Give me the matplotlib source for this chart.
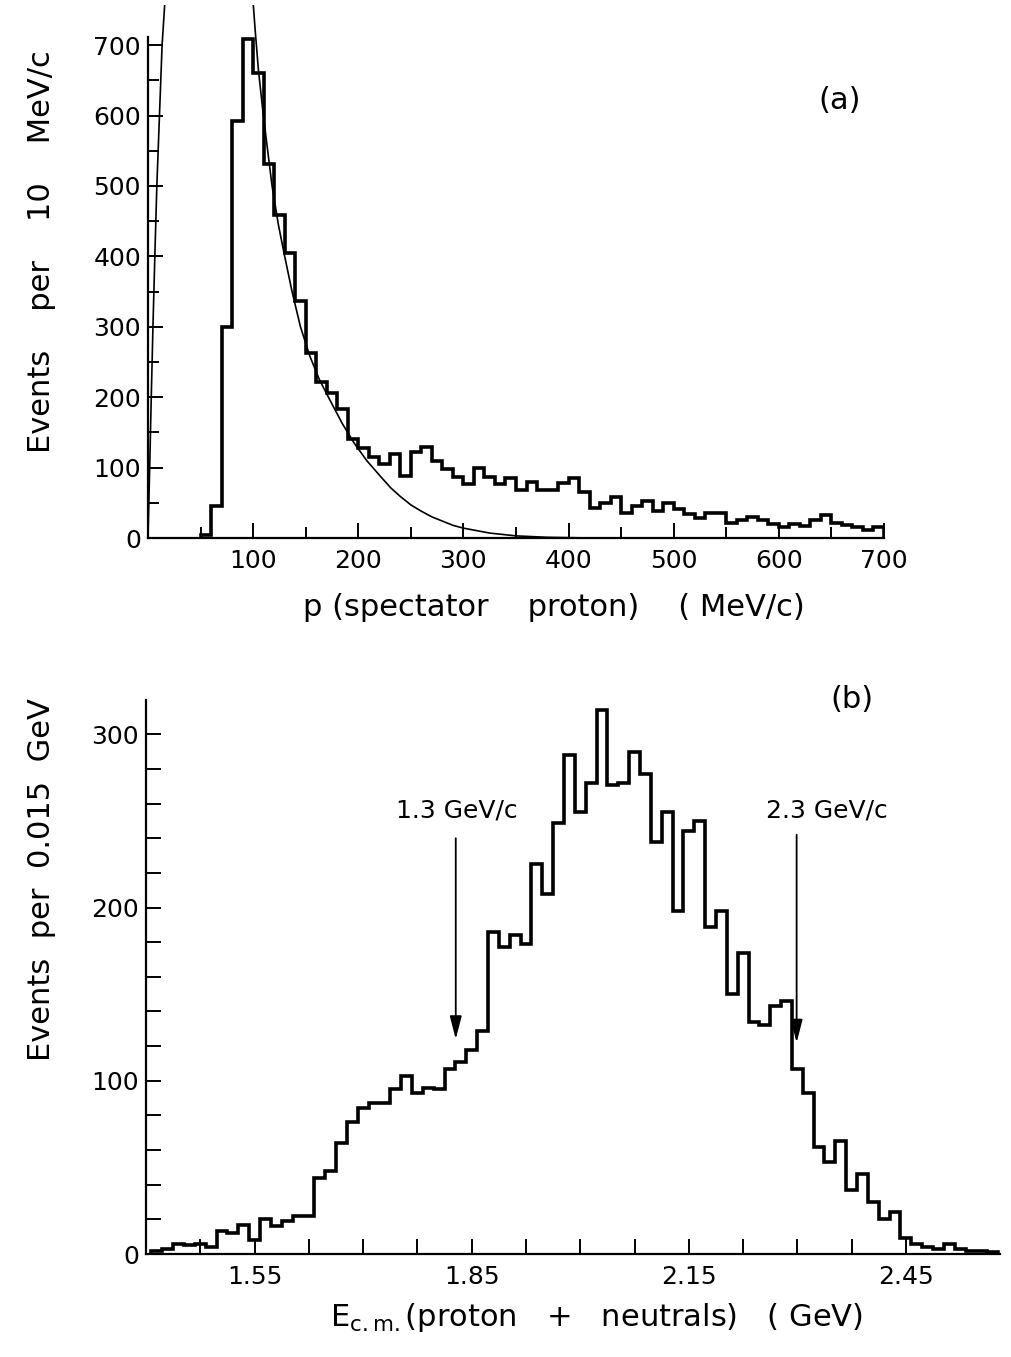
import numpy as np
import matplotlib
matplotlib.use("Agg")
import matplotlib.pyplot as plt

# ---------------- data ----------------
# (a) spectator proton momentum, 10 MeV/c bins from 50 to 700 MeV/c
p_lo, p_width = 50.0, 10.0
p_counts = [4, 45, 300, 592, 709, 661, 531, 459, 405, 336,
            263, 222, 206, 183, 140, 128, 115, 105, 120, 88,
            122, 129, 110, 98, 86, 76, 100, 87, 77, 85,
            68, 79, 68, 68, 78, 85, 66, 42, 50, 58,
            36, 45, 52, 38, 50, 41, 34, 29, 35, 35,
            22, 25, 30, 25, 20, 15, 20, 17, 25, 33,
            22, 18, 15, 11, 16]

# theory curve, traced point by point (it leaves the frame between ~16 and 100 MeV/c)
fit_left_p = [0, 1.6, 3.1, 4.7, 6.5, 8.4, 10.9, 13.4, 16.0]
fit_left_n = [0, 100, 200, 300, 400, 500, 600, 700, 760]
fit_right_p = [100, 102, 105, 109, 113, 118, 124, 130, 137, 145, 154, 163, 173,
               185, 196, 208, 222, 231, 240, 250, 260, 270, 280, 290, 300,
               325, 350, 380, 420]
fit_right_n = [760, 720, 665, 610, 560, 500, 445, 400, 350, 300, 258, 225, 196,
               162, 135, 110, 86, 71, 59, 47, 38, 30, 24, 18, 14,
               7, 3, 1, 0]

# (b) E_cm(proton + neutrals), 0.015 GeV bins
ecm_lo, ecm_width = 1.4075, 0.015
ecm_counts = [2, 3, 6, 5, 6, 4, 13, 12, 17, 8,
              20, 16, 19, 22, 22, 44, 48, 64, 76, 84,
              87, 87, 95, 103, 93, 96, 95, 107, 111, 118,
              129, 186, 177, 184, 179, 225, 208, 249, 288, 255,
              272, 314, 271, 272, 290, 277, 238, 255, 198, 244,
              250, 189, 198, 150, 174, 134, 132, 143, 146, 107,
              93, 62, 53, 65, 37, 46, 30, 20, 24, 9,
              6, 4, 3, 6, 3, 2, 2, 1]

# beam momentum markers: (label, E_cm, tail, tip)
markers = [("1.3 GeV/c", 1.828, 240, 124), ("2.3 GeV/c", 2.299, 242, 122)]
# ----------------------------------------------------------

plt.rcParams["font.family"] = ["DejaVu Sans"]
TICK_FS = 18
LAB_FS = 22
HIST_LW = 2.6

W, H = 1011, 1357
fig = plt.figure(figsize=(W / 100, H / 100), dpi=100)


def px_axes(x0, x1, y_top, y_bot):
    return fig.add_axes([x0 / W, 1 - y_bot / H, (x1 - x0) / W, (y_bot - y_top) / H])


def style(ax):
    for s in ("top", "right"):
        ax.spines[s].set_visible(False)
    for s in ("left", "bottom"):
        ax.spines[s].set_linewidth(1.6)
    ax.tick_params(which="both", direction="in", width=1.4, labelsize=TICK_FS)
    ax.tick_params(which="major", length=11)
    ax.tick_params(which="minor", length=8)
    ax.tick_params(axis="y", pad=5)
    ax.tick_params(axis="x", pad=8)
    ax.patch.set_alpha(0)


# ---------------- panel (a) ----------------
ax1 = px_axes(148, 884, 5, 538)
ax1.set_xlim(0, 700)
ax1.set_ylim(0, 757)
p_edges = p_lo + p_width * np.arange(len(p_counts) + 1)
ax1.stairs(p_counts, p_edges, color="black", lw=HIST_LW, baseline=0)
ax1.plot(fit_left_p, fit_left_n, color="black", lw=1.2)
ax1.plot(fit_right_p, fit_right_n, color="black", lw=1.2)
style(ax1)
ax1.spines["left"].set_bounds(0, 712)
ax1.set_xticks(range(100, 701, 100))
ax1.set_xticks(range(50, 700, 50), minor=True)
ax1.set_yticks(range(0, 701, 100))
ax1.set_yticks(range(50, 700, 100), minor=True)
ax1.text(658, 622, "(a)", fontsize=LAB_FS, ha="center", va="center")

# ---------------- panel (b) ----------------
ax2 = px_axes(146, 1000, 691, 1254)
ax2.set_xlim(1.40, 2.58)
ax2.set_ylim(0, 325)
ecm_edges = ecm_lo + ecm_width * np.arange(len(ecm_counts) + 1)
ax2.stairs(ecm_counts, ecm_edges, color="black", lw=HIST_LW, baseline=0)
style(ax2)
ax2.spines["left"].set_bounds(0, 320)
ax2.set_xticks([1.55, 1.85, 2.15, 2.45])
ax2.set_xticks([1.475, 1.625, 1.70, 1.775, 1.925, 2.0, 2.075, 2.225, 2.30, 2.375],
               minor=True)
ax2.set_yticks([0, 100, 200, 300])
ax2.set_yticks([v for v in range(20, 320, 20) if v % 100], minor=True)
ax2.tick_params(which="minor", length=11)
ax2.text(2.375, 320, "(b)", fontsize=LAB_FS, ha="center", va="center")

for (lab, xv, tail, tip), tx in zip(markers, [1.830, 2.341]):
    ax2.annotate("", xy=(xv, tip), xytext=(xv, tail),
                 arrowprops=dict(arrowstyle="-|>,head_length=0.7,head_width=0.18",
                                 color="black", lw=1.3,
                                 mutation_scale=20, shrinkA=0, shrinkB=0))
    ax2.text(tx, 256, lab, fontsize=TICK_FS, ha="center", va="center")

# axis titles
fig.text(42 / W, 1 - 252 / H, "Events    per    10    MeV/c", rotation=90,
         fontsize=LAB_FS, ha="center", va="center")
fig.text(554 / W, 1 - 607 / H, "p (spectator    proton)    ( MeV/c)",
         fontsize=LAB_FS, ha="center", va="center")
fig.text(42 / W, 1 - 880 / H, "Events  per  0.015  GeV", rotation=90,
         fontsize=LAB_FS, ha="center", va="center")
fig.text(597 / W, 1 - 1317 / H, r"E$_{\mathrm{c.m.}}$(proton   +   neutrals)   ( GeV)",
         fontsize=LAB_FS, ha="center", va="center")

fig.savefig("out.png", dpi=100)
